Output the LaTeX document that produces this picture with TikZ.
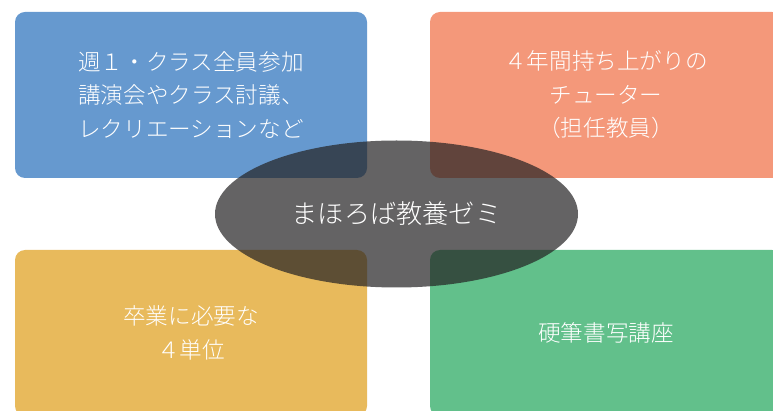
\documentclass[tikz,border=0pt]{standalone}
\usepackage{fontspec}
\setmainfont{Noto Sans CJK JP Light}
\usetikzlibrary{shapes.geometric}
\definecolor{cblue}{HTML}{6699CF}
\definecolor{corange}{HTML}{F4987A}
\definecolor{cyellow}{HTML}{E8BA5C}
\definecolor{cgreen}{HTML}{62C08B}
\definecolor{cdark}{HTML}{252324}
\tikzset{
  card/.style={rectangle, rounded corners=10pt, minimum width=352pt, minimum height=166pt,
    text=white, align=center, inner sep=0pt, font=\fontsize{22.6}{33.5}\selectfont},
  hub/.style={ellipse, fill=cdark, fill opacity=0.71, text opacity=1, text=white,
    minimum width=363pt, minimum height=147pt, inner sep=0pt, font=\fontsize{26.2}{30}\selectfont}
}
\begin{document}
\begin{tikzpicture}[x=1pt,y=-1pt]
\useasboundingbox (0,0) rectangle (773,411);
\clip (0,0) rectangle (773,411);
\node[card, fill=cblue] (weekly) at (191,95) {週１・クラス全員参加\\講演会やクラス討議、\\レクリエーションなど};
\node[card, fill=corange] (tutor) at (606,95) {４年間持ち上がりの\\チューター\\（担任教員）};
\node[card, fill=cyellow] (credits) at (191,333) {卒業に必要な\\４単位};
\node[card, fill=cgreen] (calli) at (606,333) {硬筆書写講座};
\node[hub] (seminar) at (396.5,214) {まほろば教養ゼミ};
\end{tikzpicture}
\end{document}
